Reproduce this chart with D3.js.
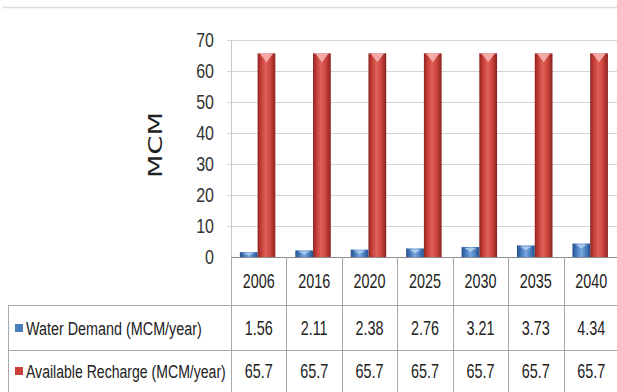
<!DOCTYPE html>
<html><head><meta charset="utf-8">
<script src="https://cdn.jsdelivr.net/npm/d3@7"></script>
<style>body{margin:0;background:#fff}svg{display:block}</style>
</head><body>
<svg id="c" width="617" height="392"></svg>
<script>
const years = ["2006","2016","2020","2025","2030","2035","2040"];
const seriesNames = ["Water Demand (MCM/year)","Available Recharge (MCM/year)"];
const demand = [1.56,2.11,2.38,2.76,3.21,3.73,4.34];
const recharge = [65.7,65.7,65.7,65.7,65.7,65.7,65.7];
const yTicks = [0,10,20,30,40,50,60,70];
const demandLabels = ["1.56","2.11","2.38","2.76","3.21","3.73","4.34"];
const rechargeLabels = ["65.7","65.7","65.7","65.7","65.7","65.7","65.7"];

const svg = d3.select("#c");
const L = 231, R = 619, T = 40, B = 257;
const tableLeft = 8, rowLines = [257, 305, 350, 393];
const x = d3.scaleBand().domain(years).range([L, R]).padding(0);
const bw = x.bandwidth();
const xs = d3.scaleBand().domain(["d","r"]).range([0.16*bw, 0.80*bw]).padding(0);
const y = d3.scaleLinear().domain([0,70]).range([B, T]);

const defs = svg.append("defs");
function grad(id, stops){
  const g = defs.append("linearGradient").attr("id", id).attr("x1","0%").attr("x2","100%").attr("y1","0%").attr("y2","0%");
  stops.forEach(s => g.append("stop").attr("offset", s[0]).attr("stop-color", s[1]));
}
grad("gr", [["0%","#8e2420"],["18%","#c23a34"],["45%","#e0605a"],["70%","#cf4740"],["100%","#8a221e"]]);
grad("gb", [["0%","#254f8a"],["20%","#3f74b8"],["50%","#79a8de"],["75%","#4a80c2"],["100%","#254f8a"]]);

// top frame line
svg.append("line").attr("x1",3).attr("x2",617).attr("y1",7.5).attr("y2",7.5)
  .attr("stroke","#dcdcdc").attr("stroke-width",1.5);

// gridlines
svg.append("g").selectAll("line").data(yTicks.filter(d=>d>0)).join("line")
  .attr("x1", L-4).attr("x2", R).attr("y1", d=>Math.round(y(d))+0.5).attr("y2", d=>Math.round(y(d))+0.5)
  .attr("stroke","#d4d4d4").attr("stroke-width",1);
// left axis line
svg.append("line").attr("x1",L+0.5).attr("x2",L+0.5).attr("y1",T).attr("y2",B)
  .attr("stroke","#c8c8c8");

// y tick labels
svg.append("g").selectAll("text").data(yTicks).join("text")
  .attr("transform", d=>`translate(214,${y(d)+7}) scale(0.8,1)`)
  .attr("text-anchor","end")
  .attr("font-family","Liberation Sans, Arial, sans-serif").attr("font-size",20)
  .attr("fill","#333").text(d=>d);

// helper: place text squeezed to a target width
function fitText(sel, tx, ty, target){
  const w = sel.node().getComputedTextLength();
  const k = w > 0 ? target / w : 1;
  sel.attr("transform", `translate(${tx},${ty}) scale(${k},1)`);
}

// axis title
const title = svg.append("g").attr("transform","translate(162,145) rotate(-90)")
  .append("text").attr("text-anchor","middle").attr("font-family","DejaVu Sans, Verdana, sans-serif")
  .attr("font-size",19).attr("fill","#222").text("MCM");
fitText(title, 0, 0, 66);

// bars
const gRed = svg.append("g");
gRed.selectAll("rect").data(years).join("rect")
  .attr("x", (d)=>x(d)+xs("r")).attr("width", xs.bandwidth())
  .attr("y", (d,i)=>y(recharge[i])).attr("height",(d,i)=>B-y(recharge[i]))
  .attr("fill","url(#gr)");
gRed.selectAll("path").data(years).join("path")
  .attr("d",(d,i)=>{const x0=x(d)+xs("r"), w=xs.bandwidth(), t=y(recharge[i]);
     return `M${x0+2},${t} L${x0+w-2},${t} L${x0+w/2},${t+9} Z`;})
  .attr("fill","#f6b4b0").attr("opacity",0.9);
const gBlue = svg.append("g");
gBlue.selectAll("rect").data(years).join("rect")
  .attr("x", (d)=>x(d)+xs("d")).attr("width", xs.bandwidth())
  .attr("y", (d,i)=>y(demand[i])).attr("height",(d,i)=>B-y(demand[i]))
  .attr("fill","url(#gb)");
gBlue.selectAll("path").data(years).join("path")
  .attr("d",(d,i)=>{const x0=x(d)+xs("d"), w=xs.bandwidth(), t=y(demand[i]);
     const h=Math.min(4,(B-t)/2); return `M${x0+3},${t+1} L${x0+w-3},${t+1} L${x0+w/2},${t+1+h} Z`;})
  .attr("fill","#b9d3f0").attr("opacity",0.8);

// zero axis line
svg.append("line").attr("x1",L).attr("x2",R).attr("y1",B+0.5).attr("y2",B+0.5)
  .attr("stroke","#8c8c8c").attr("stroke-width",1.2);

// table lines
const tl = svg.append("g").attr("stroke","#a8a8a8").attr("stroke-width",1);
tl.selectAll("line.h").data(rowLines.slice(1)).join("line").attr("class","h")
  .attr("x1",tableLeft).attr("x2",617).attr("y1",d=>d+0.5).attr("y2",d=>d+0.5);
tl.append("line").attr("x1",tableLeft+0.5).attr("x2",tableLeft+0.5).attr("y1",rowLines[1]).attr("y2",392);
tl.selectAll("line.v").data(years).join("line").attr("class","v")
  .attr("x1",d=>Math.round(x(d))+0.5).attr("x2",d=>Math.round(x(d))+0.5).attr("y1",B).attr("y2",392);

// table text
function rowText(labels, cy){
  svg.append("g").selectAll("text").data(labels).join("text")
    .attr("transform",(d,i)=>`translate(${x(years[i])+bw/2},${cy}) scale(0.72,1)`)
    .attr("text-anchor","middle").attr("dy","0.36em")
    .attr("font-family","Liberation Sans, Arial, sans-serif").attr("font-size",20)
    .attr("fill","#222").text(d=>d);
}
rowText(years, 281);
rowText(demandLabels, 328);
rowText(rechargeLabels, 371);

// legend keys in table
const keyY = [328, 371];
const keyW = [176, 200];
const lg = svg.append("g");
lg.selectAll("rect").data(seriesNames).join("rect")
  .attr("x",15).attr("y",(d,i)=>keyY[i]-4).attr("width",8).attr("height",8)
  .attr("fill",(d,i)=>i===0?"#4a7cc0":"#c9403a");
lg.selectAll("text").data(seriesNames).join("text")
  .attr("dy","0.36em")
  .attr("font-family","Liberation Sans, Arial, sans-serif").attr("font-size",19)
  .attr("fill","#222")
  .text(d=>d)
  .each(function(d,i){ fitText(d3.select(this), 26, keyY[i], keyW[i]); });
</script>
</body></html>
